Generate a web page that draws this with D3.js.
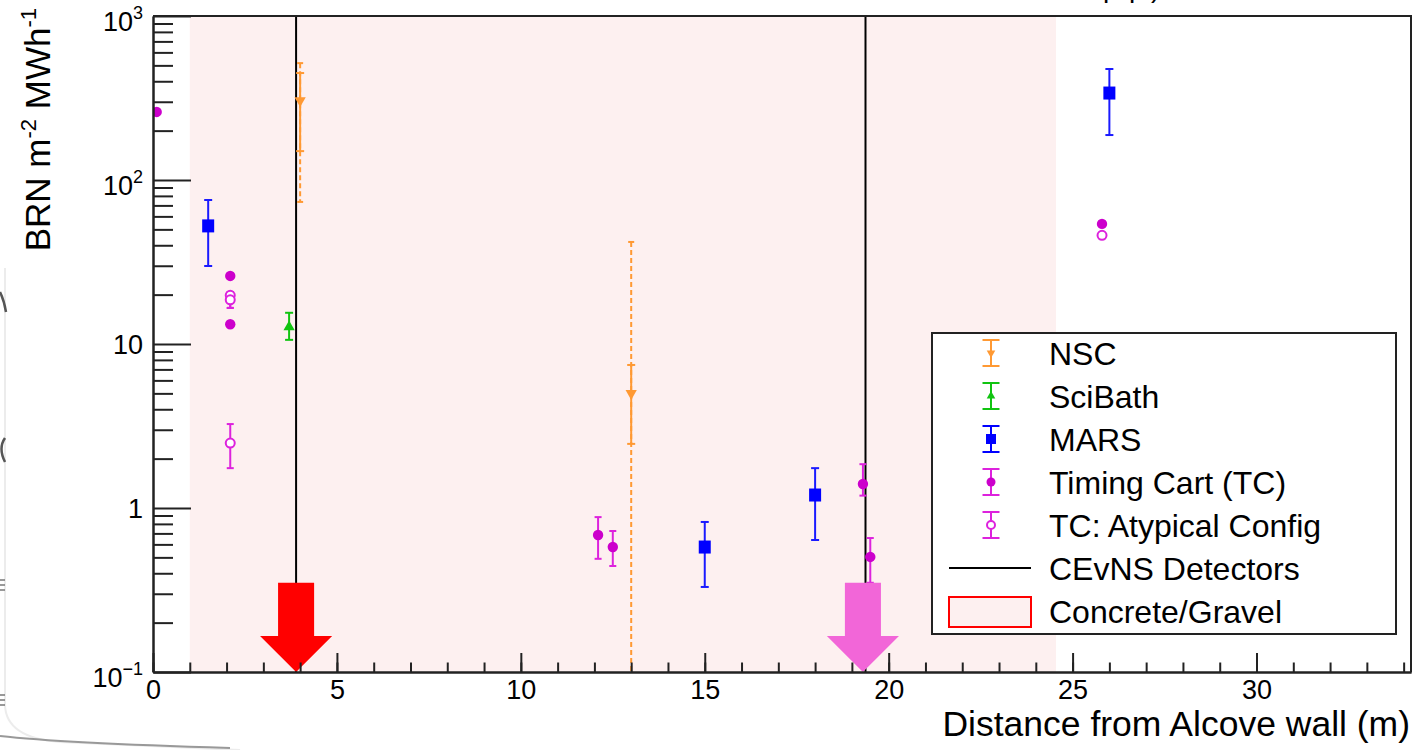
<!DOCTYPE html>
<html>
<head>
<meta charset="utf-8">
<script src="https://cdn.jsdelivr.net/npm/d3@7"></script>
<style>
  html, body { margin: 0; padding: 0; background: #ffffff; }
  svg { display: block; font-family: "Liberation Sans", Arial, Helvetica, sans-serif; }
</style>
</head>
<body>
<svg id="chart" width="1418" height="750"></svg>
<script>
// ---- data ---------------------------------------------------------------
// NSC (statistical and systematic ranges)
const nscX      = [4.0, 13.0];
const nscY      = [305, 5.0];
const nscStatLo = [150, 2.46];
const nscStatHi = [449, 7.45];
const nscSysLo  = [73.5, 0.05];
const nscSysHi  = [516, 41.9];

// SciBath
const sciX  = [3.7];
const sciY  = [12.7];
const sciLo = [10.6];
const sciHi = [15.5];

// MARS
const marsX  = [1.5, 15.0, 18.0, 26.0];
const marsY  = [52.5, 0.578, 1.20, 339];
const marsLo = [29.9, 0.33, 0.638, 188];
const marsHi = [75.5, 0.822, 1.75, 475];

// Timing Cart (TC)
const tcX  = [0.1, 2.1, 2.1, 12.1, 12.5, 19.3, 19.5, 25.8];
const tcY  = [260, 26, 13.2, 0.684, 0.578, 1.40, 0.503, 54];
const tcLo = [260, 26, 13.2, 0.49, 0.443, 1.19, 0.35, 54];
const tcHi = [260, 26, 13.2, 0.88, 0.724, 1.85, 0.656, 54];

// TC: atypical configuration
const tcaX  = [2.1, 2.1, 2.1, 25.8];
const tcaY  = [19.8, 18.6, 2.49, 46];
const tcaLo = [16.6, 16.6, 1.75, 46];
const tcaHi = [20.7, 20.7, 3.25, 46];

// CEvNS detector locations and their marker arrows
const detectorX   = [3.89, 19.37];
const arrowX      = [3.89, 19.3];
const arrowColors = ["#ff0000", "#f266d8"];

// Concrete / gravel extent
const concreteRange = [1.0, 24.55];

// axes
const xMajorTicks = [0, 5, 10, 15, 20, 25, 30];
const xMinorTicks = d3.range(0, 35, 1);
const yMajorTicks = [0.1, 1, 10, 100, 1000];
const yTickBase   = ["10", "1", "10", "10", "10"];
const yTickExp    = ["\u22121", "", "", "2", "3"];
const yMinorTicks = [];
[0.1, 1, 10, 100].forEach(d => { for (let k = 2; k <= 9; k++) yMinorTicks.push(d * k); });

const legendLabels = ["NSC", "SciBath", "MARS", "Timing Cart (TC)", "TC: Atypical Config",
                      "CEvNS Detectors", "Concrete/Gravel"];

// ---- colours ---------------------------------------------------------------
const cNSC = "#ff9933", cSci = "#11c411", cMars = "#0000ff", cTC = "#cc00cc", cTCbar = "#dd22dd";

// ---- layout / scales -------------------------------------------------------
const svg = d3.select("#chart");
const pL = 153, pR = 1411, pT = 16, pB = 672;
const x = d3.scaleLinear().domain([0, 34.2]).range([pL, pR]);
const y = d3.scaleLog().domain([0.1, 1000]).range([pB, pT]);

svg.append("defs").append("clipPath").attr("id", "plotClip")
  .append("rect").attr("x", pL).attr("y", pT).attr("width", pR - pL).attr("height", pB - pT);

// faint background strokes along the left edge
const deco = svg.append("g").attr("fill", "none");
deco.append("path").attr("d", "M5,268 L5,705 Q6,738 60,742 L240,750")
  .attr("stroke", "#ececec").attr("stroke-width", 2);
deco.append("path").attr("d", "M0,292 Q4,300 6,312").attr("stroke", "#555").attr("stroke-width", 2.5);
deco.append("path").attr("d", "M5,438 Q-2,448 5,462").attr("stroke", "#555").attr("stroke-width", 2.5);
[580, 585, 590, 695, 700, 705].forEach(v =>
  deco.append("line").attr("x1", 0).attr("x2", 5).attr("y1", v).attr("y2", v)
    .attr("stroke", "#777").attr("stroke-width", 1.5));
deco.append("path").attr("d", "M0,736 Q60,743 230,748").attr("stroke", "#999").attr("stroke-width", 2);

// partially visible heading above the frame
svg.append("text").attr("y", -3).attr("font-size", 28).attr("fill", "#000")
  .selectAll("tspan").data([["p", 1103], ["p", 1129], [")", 1151]]).join("tspan")
  .attr("x", d => d[1]).text(d => d[0]);

const plot = svg.append("g").attr("clip-path", "url(#plotClip)");

// concrete/gravel band
plot.append("rect")
  .attr("x", x(concreteRange[0])).attr("width", x(concreteRange[1]) - x(concreteRange[0]))
  .attr("y", pT).attr("height", pB - pT)
  .attr("fill", "#fdf0f0");

// detector lines
plot.selectAll("line.det").data(detectorX).join("line").attr("class", "det")
  .attr("x1", d => x(d)).attr("x2", d => x(d)).attr("y1", pT).attr("y2", pB)
  .attr("stroke", "#000").attr("stroke-width", 2);

// error bar helper
function errBar(g, xv, lo, hi, color, cap, dash) {
  if (!(hi > lo)) return;
  const px = x(xv);
  g.append("line").attr("x1", px).attr("x2", px).attr("y1", y(hi)).attr("y2", y(lo))
    .attr("stroke", color).attr("stroke-width", 2).attr("stroke-dasharray", dash || null);
  [hi, lo].forEach(v => g.append("line")
    .attr("x1", px - cap).attr("x2", px + cap).attr("y1", y(v)).attr("y2", y(v))
    .attr("stroke", color).attr("stroke-width", 2));
}

// NSC
nscX.forEach((xv, i) => {
  errBar(plot, xv, nscSysLo[i], nscSysHi[i], cNSC, 3, "5,3");
  errBar(plot, xv, nscStatLo[i], nscStatHi[i], cNSC, 4);
});
plot.selectAll("path.nsc").data(nscX).join("path").attr("class", "nsc")
  .attr("d", d3.symbol(d3.symbolTriangle, 55))
  .attr("transform", (d, i) => `translate(${x(d)},${y(nscY[i])}) rotate(180)`)
  .attr("fill", cNSC);

// SciBath
sciX.forEach((xv, i) => errBar(plot, xv, sciLo[i], sciHi[i], cSci, 4));
plot.selectAll("path.sci").data(sciX).join("path").attr("class", "sci")
  .attr("d", d3.symbol(d3.symbolTriangle, 55))
  .attr("transform", (d, i) => `translate(${x(d)},${y(sciY[i])})`)
  .attr("fill", cSci);

// MARS
marsX.forEach((xv, i) => errBar(plot, xv, marsLo[i], marsHi[i], "#1a1aff", 4));
plot.selectAll("rect.mars").data(marsX).join("rect").attr("class", "mars")
  .attr("x", d => x(d) - 6).attr("width", 12)
  .attr("y", (d, i) => y(marsY[i]) - 6.5).attr("height", 13)
  .attr("fill", cMars);

// TC: atypical (open circles)
tcaX.forEach((xv, i) => errBar(plot, xv, tcaLo[i], tcaHi[i], cTCbar, 3.5));
plot.selectAll("circle.tca").data(tcaX).join("circle").attr("class", "tca")
  .attr("cx", d => x(d)).attr("cy", (d, i) => y(tcaY[i])).attr("r", 4.5)
  .attr("fill", "#fff").attr("stroke", cTCbar).attr("stroke-width", 2);

// Timing Cart (filled circles)
tcX.forEach((xv, i) => errBar(plot, xv, tcLo[i], tcHi[i], cTCbar, 3.5));
plot.selectAll("circle.tc").data(tcX).join("circle").attr("class", "tc")
  .attr("cx", d => x(d)).attr("cy", (d, i) => y(tcY[i])).attr("r", 5.2)
  .attr("fill", cTC);

// detector arrows (shaft 0.35 -> 0.166, head down to the axis)
const shaftHalf = 0.49, headHalf = 0.98;
svg.selectAll("path.arrow").data(arrowX).join("path").attr("class", "arrow")
  .attr("d", d => {
    const pts = [
      [d - shaftHalf, 0.35], [d + shaftHalf, 0.35], [d + shaftHalf, 0.166],
      [d + headHalf, 0.166], [d, 0.1], [d - headHalf, 0.166], [d - shaftHalf, 0.166]
    ];
    return "M" + pts.map(p => `${x(p[0])},${y(p[1])}`).join("L") + "Z";
  })
  .attr("fill", (d, i) => arrowColors[i]);

// ---- axes --------------------------------------------------------------------
const axisColor = "#222";
function styleAxis(g) {
  g.selectAll("path.domain").attr("stroke", axisColor).attr("stroke-width", 2);
  g.selectAll(".tick line").attr("stroke", axisColor).attr("stroke-width", 2);
}

// frame top and right
svg.append("path").attr("d", `M${pL},${pT}H${pR}V${pB}`)
  .attr("fill", "none").attr("stroke", axisColor).attr("stroke-width", 2);

svg.append("g").attr("transform", `translate(0,${pB})`)
  .call(d3.axisBottom(x).tickValues(xMinorTicks).tickSize(-9.5).tickSizeOuter(0).tickFormat(""))
  .call(styleAxis);

const gx = svg.append("g").attr("transform", `translate(0,${pB})`)
  .call(d3.axisBottom(x).tickValues(xMajorTicks).tickSize(-19).tickSizeOuter(0).tickPadding(8).tickFormat(d3.format("d")))
  .call(styleAxis);
gx.selectAll("text").attr("font-size", 27).attr("font-family", "Liberation Sans, Arial, sans-serif").attr("fill", "#000");

svg.append("g").attr("transform", `translate(${pL},0)`)
  .call(d3.axisLeft(y).tickValues(yMinorTicks).tickSize(-20).tickSizeOuter(0).tickFormat(""))
  .call(styleAxis);

const gy = svg.append("g").attr("transform", `translate(${pL},0)`)
  .call(d3.axisLeft(y).tickValues(yMajorTicks).tickSize(-38).tickSizeOuter(0).tickPadding(10).tickFormat(""))
  .call(styleAxis);
gy.selectAll(".tick text").each(function (d) {
  const i = yMajorTicks.indexOf(d);
  const t = d3.select(this).attr("dy", null).attr("x", -10)
    .attr("font-size", 27).attr("font-family", "Liberation Sans, Arial, sans-serif")
    .attr("fill", "#000").attr("text-anchor", "end");
  if (yTickExp[i]) {
    t.attr("y", 14);
    t.append("tspan").text(yTickBase[i]);
    t.append("tspan").attr("font-size", 18).attr("dy", -12).text(yTickExp[i]);
  } else {
    t.attr("y", 9.5).text(yTickBase[i]);
  }
});

// axis titles
svg.append("text").attr("x", 1410).attr("y", 736).attr("text-anchor", "end")
  .attr("font-size", 35.5).attr("fill", "#000").text("Distance from Alcove wall (m)");

const yt = svg.append("text").attr("transform", "translate(50,8) rotate(-90)")
  .attr("text-anchor", "end").attr("font-size", 35).attr("fill", "#000");
yt.append("tspan").text("BRN m");
yt.append("tspan").attr("font-size", 22).attr("dy", -14).text("-2");
yt.append("tspan").attr("dy", 14).text(" MWh");
yt.append("tspan").attr("font-size", 22).attr("dy", -14).text("-1");

// ---- legend ------------------------------------------------------------------
const lg = svg.append("g");
lg.append("rect").attr("x", 932).attr("y", 333).attr("width", 464).attr("height", 301)
  .attr("fill", "#fff").attr("stroke", axisColor).attr("stroke-width", 2);
const rowY = legendLabels.map((d, i) => 353 + i * 43);
const mx = 991;
lg.selectAll("text").data(legendLabels).join("text")
  .attr("x", 1049).attr("y", (d, i) => rowY[i] + 11.5).attr("font-size", 32).attr("fill", "#000")
  .text(d => d);

function legendBar(cy, color) {
  lg.append("line").attr("x1", mx).attr("x2", mx).attr("y1", cy - 13).attr("y2", cy + 13)
    .attr("stroke", color).attr("stroke-width", 2);
  [cy - 13, cy + 13].forEach(v => lg.append("line").attr("x1", mx - 8.5).attr("x2", mx + 8.5)
    .attr("y1", v).attr("y2", v).attr("stroke", color).attr("stroke-width", 2));
}
legendBar(rowY[0], cNSC);
lg.append("path").attr("d", d3.symbol(d3.symbolTriangle, 32))
  .attr("transform", `translate(${mx},${rowY[0]}) rotate(180)`).attr("fill", cNSC);
legendBar(rowY[1], cSci);
lg.append("path").attr("d", d3.symbol(d3.symbolTriangle, 32))
  .attr("transform", `translate(${mx},${rowY[1]})`).attr("fill", cSci);
legendBar(rowY[2], cMars);
lg.append("rect").attr("x", mx - 5).attr("y", rowY[2] - 5).attr("width", 10).attr("height", 10).attr("fill", cMars);
legendBar(rowY[3], cTCbar);
lg.append("circle").attr("cx", mx).attr("cy", rowY[3]).attr("r", 4.5).attr("fill", cTC);
legendBar(rowY[4], cTCbar);
lg.append("circle").attr("cx", mx).attr("cy", rowY[4]).attr("r", 4).attr("fill", "#fff")
  .attr("stroke", cTCbar).attr("stroke-width", 2);
lg.append("line").attr("x1", 949).attr("x2", 1031).attr("y1", rowY[5]).attr("y2", rowY[5])
  .attr("stroke", "#000").attr("stroke-width", 2);
lg.append("rect").attr("x", 949).attr("y", rowY[6] - 14).attr("width", 82).attr("height", 30)
  .attr("fill", "#fdf0f0").attr("stroke", "#ff0000").attr("stroke-width", 2);
</script>
</body>
</html>
